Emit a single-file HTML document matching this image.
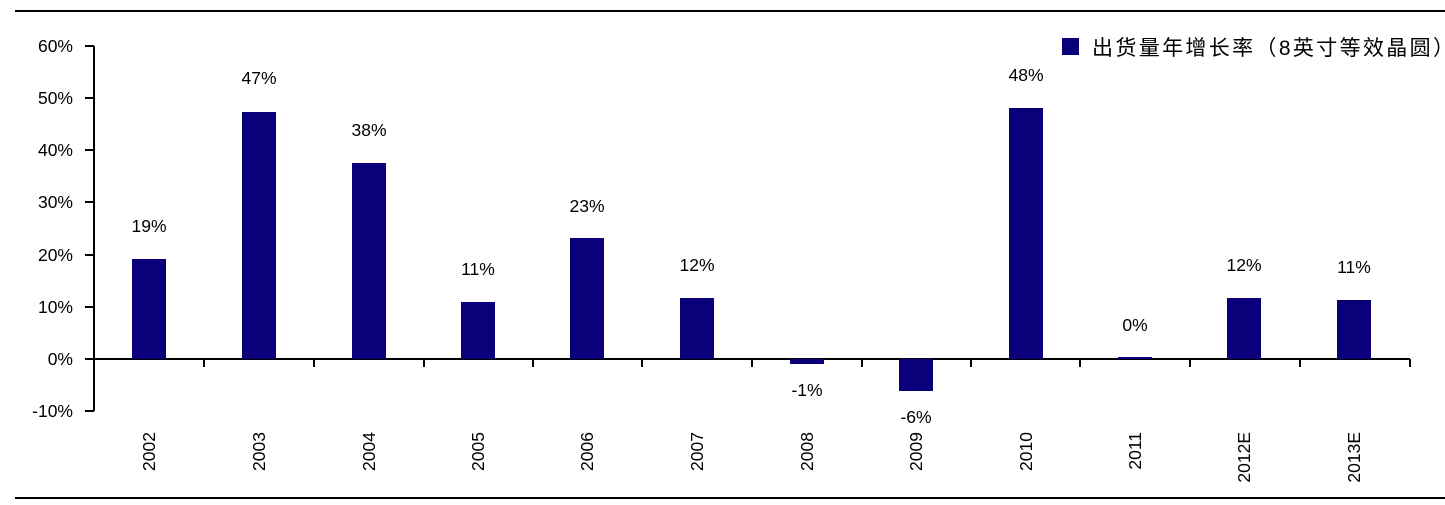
<!DOCTYPE html>
<html><head><meta charset="utf-8"><style>
body{margin:0;background:#fff;}
svg{display:block;font-family:"Liberation Sans","Noto Sans CJK SC",sans-serif;}
</style></head><body>
<svg width="1445" height="505" viewBox="0 0 1445 505" xmlns="http://www.w3.org/2000/svg">
<line x1="15" y1="11" x2="1445" y2="11" stroke="#000" stroke-width="2"/>
<line x1="15" y1="498" x2="1445" y2="498" stroke="#000" stroke-width="2"/>
<g stroke="#000" stroke-width="2">
<line x1="94" y1="46" x2="94" y2="411"/>
<line x1="85" y1="46" x2="94" y2="46"/>
<line x1="85" y1="98" x2="94" y2="98"/>
<line x1="85" y1="150" x2="94" y2="150"/>
<line x1="85" y1="202" x2="94" y2="202"/>
<line x1="85" y1="255" x2="94" y2="255"/>
<line x1="85" y1="307" x2="94" y2="307"/>
<line x1="85" y1="359" x2="94" y2="359"/>
<line x1="85" y1="411" x2="94" y2="411"/>
<line x1="94" y1="359" x2="1410" y2="359"/>
</g>
<g font-size="17.5" text-anchor="end" fill="#000">
<text x="73" y="52">60%</text><text x="73" y="104">50%</text><text x="73" y="156">40%</text>
<text x="73" y="208">30%</text><text x="73" y="261">20%</text><text x="73" y="313">10%</text>
<text x="73" y="365">0%</text><text x="73" y="417">-10%</text>
</g>
<g fill="#0A007A">
<rect x="132" y="259" width="34" height="100"/>
<rect x="242" y="112" width="34" height="247"/>
<rect x="352" y="163" width="34" height="196"/>
<rect x="461" y="302" width="34" height="57"/>
<rect x="570" y="238" width="34" height="121"/>
<rect x="680" y="298" width="34" height="61"/>
<rect x="790" y="359" width="34" height="5"/>
<rect x="899" y="359" width="34" height="32"/>
<rect x="1009" y="108" width="34" height="251"/>
<rect x="1118" y="357" width="34" height="2"/>
<rect x="1227" y="298" width="34" height="61"/>
<rect x="1337" y="300" width="34" height="59"/>
<rect x="1062" y="38" width="17" height="17"/>
</g>
<g stroke="#000" stroke-width="2">
<line x1="204" y1="359" x2="204" y2="367"/><line x1="314" y1="359" x2="314" y2="367"/>
<line x1="424" y1="359" x2="424" y2="367"/><line x1="533" y1="359" x2="533" y2="367"/>
<line x1="642" y1="359" x2="642" y2="367"/><line x1="752" y1="359" x2="752" y2="367"/>
<line x1="862" y1="359" x2="862" y2="367"/><line x1="971" y1="359" x2="971" y2="367"/>
<line x1="1080" y1="359" x2="1080" y2="367"/><line x1="1190" y1="359" x2="1190" y2="367"/>
<line x1="1300" y1="359" x2="1300" y2="367"/><line x1="1410" y1="359" x2="1410" y2="367"/>
</g>
<g font-size="17.5" text-anchor="middle" fill="#000">
<text x="149" y="232">19%</text><text x="259" y="84">47%</text><text x="369" y="136">38%</text>
<text x="478" y="275">11%</text><text x="587" y="212">23%</text><text x="697" y="271">12%</text>
<text x="807" y="396">-1%</text><text x="916" y="423">-6%</text><text x="1026" y="81">48%</text>
<text x="1135" y="331">0%</text><text x="1244" y="271">12%</text><text x="1354" y="273">11%</text>
</g>
<g font-size="17.5" text-anchor="end" fill="#000">
<text transform="translate(155,432) rotate(-90)">2002</text>
<text transform="translate(265,432) rotate(-90)">2003</text>
<text transform="translate(375,432) rotate(-90)">2004</text>
<text transform="translate(484,432) rotate(-90)">2005</text>
<text transform="translate(593,432) rotate(-90)">2006</text>
<text transform="translate(703,432) rotate(-90)">2007</text>
<text transform="translate(813,432) rotate(-90)">2008</text>
<text transform="translate(922,432) rotate(-90)">2009</text>
<text transform="translate(1032,432) rotate(-90)">2010</text>
<text transform="translate(1141,432) rotate(-90)">2011</text>
<text transform="translate(1250,432) rotate(-90)">2012E</text>
<text transform="translate(1360,432) rotate(-90)">2013E</text>
</g>
<text x="1092" y="55" font-size="21" fill="#000" textLength="362" lengthAdjust="spacing">出货量年增长率（8英寸等效晶圆）</text>
</svg>
</body></html>
